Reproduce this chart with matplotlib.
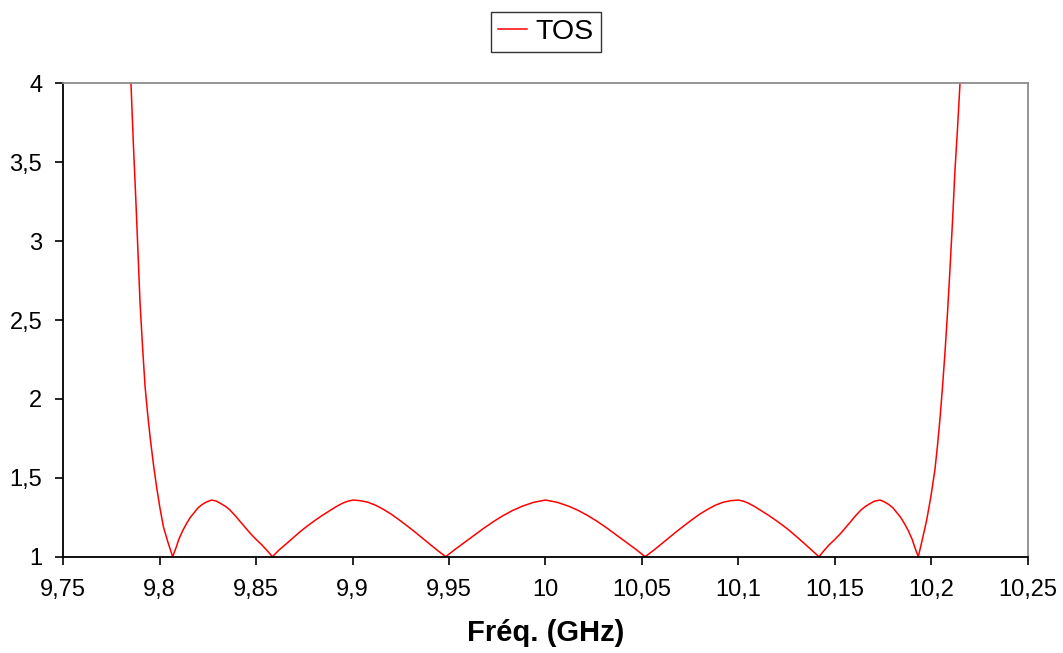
import matplotlib
matplotlib.use('Agg')
import matplotlib.pyplot as plt
from matplotlib.ticker import FuncFormatter

plt.rcParams['font.family'] = ['Liberation Sans', 'DejaVu Sans']

# frequency (GHz) and VSWR
freq = [9.7852, 9.7865, 9.7878, 9.7889, 9.7899, 9.7912, 9.7925, 9.7938, 9.7951, 9.7968, 9.7985,
        9.8002, 9.8020, 9.8044, 9.8068,
        9.8085, 9.8100, 9.8120, 9.8140, 9.8160, 9.8180, 9.8200, 9.8220, 9.8245, 9.8270,
        9.8295, 9.8320, 9.8343, 9.8365, 9.8392, 9.8420, 9.8445, 9.8470, 9.8500, 9.8530, 9.8558, 9.8585,
        9.8620, 9.8660, 9.8700, 9.8740, 9.8770, 9.8800, 9.8840, 9.8880, 9.8915, 9.8950, 9.8977,
        9.9004, 9.9040, 9.9080, 9.9120, 9.9160, 9.9200, 9.9240, 9.9280, 9.9320, 9.9360, 9.9400,
        9.9440, 9.9483,
        9.9530, 9.9580, 9.9630, 9.9680, 9.9730, 9.9780, 9.9830, 9.9880, 9.9940, 10.000,
        10.006, 10.012, 10.017, 10.022, 10.027, 10.032, 10.037, 10.042, 10.047, 10.0516,
        10.056, 10.060, 10.064, 10.068, 10.072, 10.076, 10.080, 10.084, 10.088, 10.092, 10.096,
        10.100, 10.1025, 10.105, 10.1085, 10.112, 10.116, 10.120, 10.123, 10.126, 10.130, 10.134,
        10.1378, 10.1417,
        10.1443, 10.147, 10.150, 10.153, 10.1555, 10.158, 10.1607, 10.1635, 10.1657, 10.168, 10.1705,
        10.1733, 10.1755, 10.178, 10.180, 10.182, 10.184, 10.186, 10.188, 10.190, 10.1915, 10.1932,
        10.1953, 10.1975, 10.1997, 10.2018, 10.2031, 10.2044, 10.2057, 10.2070, 10.2083, 10.2096,
        10.2109, 10.2122, 10.2135, 10.2148]
tos = [4.00, 3.60, 3.24, 2.91, 2.61, 2.33, 2.08, 1.91, 1.76, 1.59, 1.44,
       1.31, 1.19, 1.09, 1.00,
       1.055, 1.11, 1.165, 1.21, 1.25, 1.28, 1.31, 1.33, 1.348, 1.359,
       1.352, 1.335, 1.318, 1.296, 1.26, 1.22, 1.184, 1.148, 1.11, 1.075, 1.038, 1.00,
       1.043, 1.085, 1.128, 1.17, 1.198, 1.225, 1.259, 1.29, 1.317, 1.34, 1.352,
       1.359, 1.355, 1.345, 1.326, 1.30, 1.27, 1.235, 1.198, 1.16, 1.12, 1.08,
       1.04, 1.00,
       1.045, 1.09, 1.135, 1.18, 1.222, 1.26, 1.293, 1.32, 1.345, 1.359,
       1.345, 1.32, 1.293, 1.26, 1.222, 1.18, 1.135, 1.09, 1.045, 1.00,
       1.04, 1.08, 1.12, 1.16, 1.198, 1.235, 1.27, 1.30, 1.326, 1.345, 1.355,
       1.359, 1.352, 1.34, 1.317, 1.29, 1.259, 1.225, 1.198, 1.17, 1.128, 1.085,
       1.043, 1.00,
       1.038, 1.075, 1.11, 1.148, 1.184, 1.22, 1.26, 1.296, 1.318, 1.335, 1.352,
       1.359, 1.348, 1.33, 1.31, 1.28, 1.25, 1.21, 1.165, 1.11, 1.055, 1.00,
       1.11, 1.23, 1.38, 1.55, 1.70, 1.87, 2.07, 2.29, 2.54, 2.82,
       3.12, 3.45, 3.71, 4.00]

xticks = [9.75, 9.8, 9.85, 9.9, 9.95, 10.0, 10.05, 10.1, 10.15, 10.2, 10.25]
yticks = [1, 1.5, 2, 2.5, 3, 3.5, 4]

fig = plt.figure(figsize=(10.63, 6.53), dpi=100)
fig.set_facecolor('w')
ax = fig.add_axes([0.0593, 0.1475, 0.9077, 0.7249])

ax.plot(freq, tos, color='#ff0000', lw=1.1, label='TOS')
ax.set_xlim(9.75, 10.25)
ax.set_ylim(1, 4)
ax.set_xticks(xticks)
ax.set_yticks(yticks)

comma = FuncFormatter(lambda v, p: ('%g' % round(v, 4)).replace('.', ','))
ax.xaxis.set_major_formatter(comma)
ax.yaxis.set_major_formatter(comma)
ax.tick_params(axis='both', direction='out', length=6, width=1.2,
               labelsize=17, pad=9, colors='black')
ax.tick_params(axis='x', pad=10)

for s in ['left', 'bottom']:
    ax.spines[s].set_color('black')
    ax.spines[s].set_linewidth(1.3)
for s in ['top', 'right']:
    ax.spines[s].set_color('#8c8c8c')
    ax.spines[s].set_linewidth(1.3)

ax.set_xlabel('Fréq. (GHz)', fontsize=21, fontweight='bold', labelpad=13)

leg = fig.legend(loc='center', bbox_to_anchor=(0.5135, 0.9515), fontsize=20.5,
                 frameon=True, fancybox=False, handlelength=1.0, handletextpad=0.3,
                 borderpad=0.25, borderaxespad=0)
leg.get_frame().set_edgecolor('black')
leg.get_frame().set_linewidth(1.0)

fig.savefig('out.png', dpi=100, facecolor='w')
